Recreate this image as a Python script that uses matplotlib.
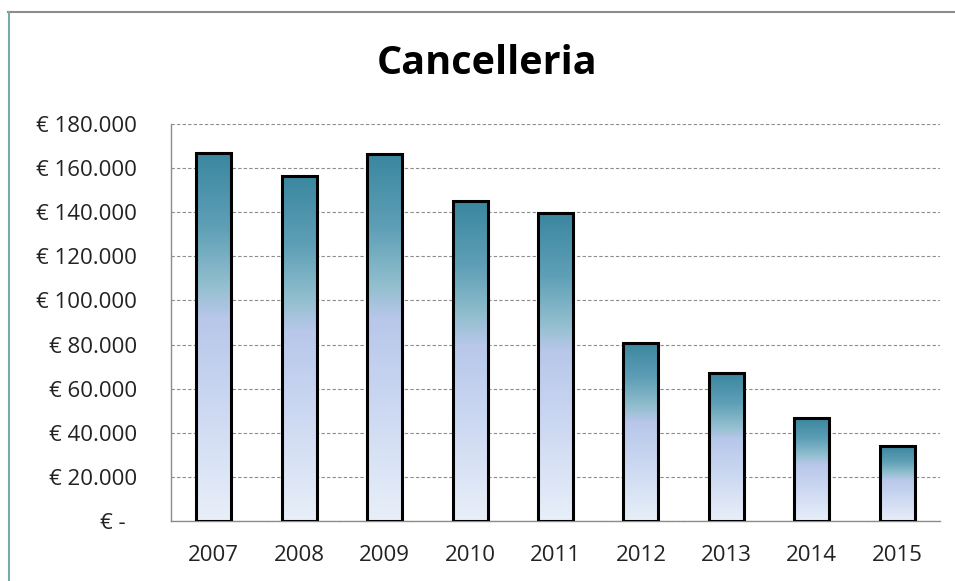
import numpy as np
import matplotlib
matplotlib.use("Agg")
import matplotlib.pyplot as plt
from matplotlib.colors import LinearSegmentedColormap
from matplotlib.patches import Rectangle
from matplotlib.ticker import FuncFormatter, MultipleLocator

years = ["2007", "2008", "2009", "2010", "2011", "2012", "2013", "2014", "2015"]
values = [167000, 156500, 166500, 145000, 139500, 80800, 67000, 46700, 34000]
title = "Cancelleria"

plt.rcParams['font.family'] = ['Open Sans', 'DejaVu Sans']

fig = plt.figure(figsize=(9.55, 5.81), dpi=100)
ax = fig.add_axes([171/955, 60/581, (940-171)/955, (521-124)/581])

cmap = LinearSegmentedColormap.from_list("grad", [
    (0.0, "#e8eff9"),
    (0.30, "#cdd9f2"),
    (0.55, "#b8c7ea"),
    (0.64, "#92bfce"),
    (0.80, "#5e9fb6"),
    (1.0, "#3a879f"),
])

x = np.arange(len(years))
width = 0.41
grad = np.linspace(0, 1, 256).reshape(-1, 1)
for xi, v in zip(x, values):
    im = ax.imshow(grad, extent=[xi - width/2, xi + width/2, 0, v], origin="lower",
                   cmap=cmap, aspect="auto", zorder=2, interpolation="bilinear")
    rect = Rectangle((xi - width/2, 0), width, v, facecolor="none",
                     edgecolor="black", linewidth=2.2, zorder=3)
    ax.add_patch(rect)
    im.set_clip_path(rect)

ax.set_xlim(-0.5, len(years) - 0.5)
ax.set_ylim(0, 180000)
ax.set_aspect("auto")
ax.yaxis.set_major_locator(MultipleLocator(20000))

def fmt(v, pos):
    if v == 0:
        return "€ -  "
    return "€ " + f"{int(v):,}".replace(",", ".")

ax.yaxis.set_major_formatter(FuncFormatter(fmt))
ax.set_xticks(x)
ax.set_xticklabels(years)
ax.tick_params(axis="both", length=0, labelsize=16, colors="#222222")
ax.tick_params(axis="y", pad=24.5)
ax.tick_params(axis="x", pad=17)
for lab in ax.get_yticklabels():
    lab.set_horizontalalignment("right")

ax.yaxis.grid(True, linestyle=(0, (3, 2)), color="#8c8c8c", linewidth=0.8, zorder=0)
ax.set_axisbelow(True)
for s in ["top", "right"]:
    ax.spines[s].set_visible(False)
ax.spines["left"].set_color("#8c8c8c")
ax.spines["bottom"].set_color("#8c8c8c")
ax.spines["left"].set_linewidth(1.0)
ax.spines["bottom"].set_linewidth(1.0)

fig.text(487/955, 1 - 63/581, title, ha="center", va="center",
         fontsize=28.5, fontweight="bold", color="black")

# outer chart border (top and left)
fig.add_artist(plt.Line2D([8/955, 1.0], [1 - 11.5/581, 1 - 11.5/581],
                          color="#8c8c8c", linewidth=1.5, transform=fig.transFigure))
fig.add_artist(plt.Line2D([8.5/955, 8.5/955], [0, 1 - 11.5/581],
                          color="#7aa9a9", linewidth=1.5, transform=fig.transFigure))

fig.savefig("out.png", dpi=100)
